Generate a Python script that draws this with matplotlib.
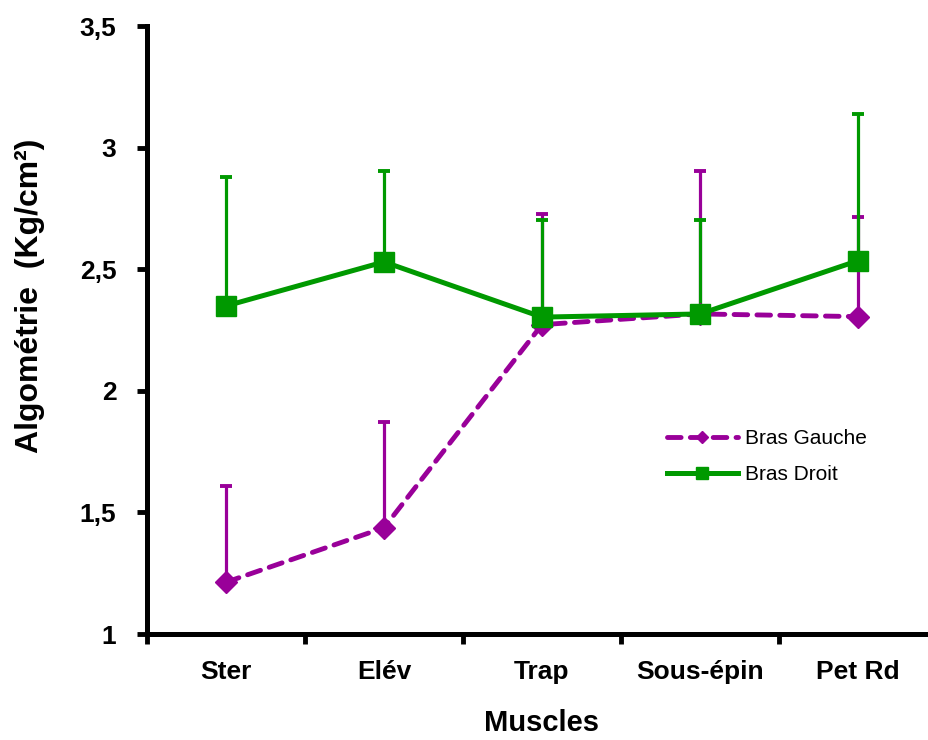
import matplotlib.pyplot as plt
from matplotlib.ticker import FuncFormatter

plt.rcParams["font.family"] = ["Liberation Sans", "DejaVu Sans"]

muscles = ["Ster", "Elév", "Trap", "Sous-épin", "Pet Rd"]
gauche = [1.213, 1.437, 2.272, 2.316, 2.305]
gauche_top = [1.607, 1.873, 2.725, 2.905, 2.714]
droit = [2.349, 2.530, 2.303, 2.316, 2.535]
droit_top = [2.878, 2.903, 2.702, 2.703, 3.140]

PURPLE = "#990099"
GREEN = "#009900"


def main():
    fig = plt.figure(figsize=(9.29, 7.40), dpi=100)
    ax = fig.add_axes([147 / 929, 1 - 634 / 740, (937 - 147) / 929, (634 - 26) / 740])

    x = list(range(len(muscles)))
    g_err = [[0] * len(x), [t - v for t, v in zip(gauche_top, gauche)]]
    d_err = [[0] * len(x), [t - v for t, v in zip(droit_top, droit)]]

    ax.errorbar(x, gauche, yerr=g_err, fmt="none", ecolor=PURPLE,
                elinewidth=2.3, capsize=4.5, capthick=2.8, zorder=2)
    ax.errorbar(x, droit, yerr=d_err, fmt="none", ecolor=GREEN,
                elinewidth=2.3, capsize=4.5, capthick=2.8, zorder=2)
    ax.plot(x, gauche, color=PURPLE, linestyle=(0, (2.8, 1.9)), linewidth=3.5,
            dash_capstyle="round", marker="D", markersize=11,
            label="Bras Gauche", zorder=3)
    ax.plot(x, droit, color=GREEN, linewidth=3.6, marker="s",
            markersize=14.5, label="Bras Droit", zorder=4)

    ax.set_xlim(-0.5, len(muscles) - 0.5)
    ax.set_ylim(1, 3.5)
    ax.set_yticks([1, 1.5, 2, 2.5, 3, 3.5])
    ax.yaxis.set_major_formatter(
        FuncFormatter(lambda v, _: f"{v:g}".replace(".", ",")))
    ax.set_xticks([i - 0.5 for i in range(len(muscles) + 1)])
    ax.set_xticklabels([])
    ax.set_xticks(x, minor=True)
    ax.set_xticklabels(muscles, minor=True, fontsize=19, fontweight="bold")
    ax.tick_params(axis="x", which="minor", length=0, pad=19)
    ax.tick_params(axis="x", which="major", length=7, width=3.5)
    ax.tick_params(axis="y", length=7, width=3.5, labelsize=19, pad=15)
    for label in ax.get_yticklabels():
        label.set_fontweight("bold")

    for side in ["top", "right"]:
        ax.spines[side].set_visible(False)
    for side in ["left", "bottom"]:
        ax.spines[side].set_linewidth(3.6)

    ax.set_xlabel("Muscles", fontsize=21, fontweight="bold", labelpad=18)
    ax.set_ylabel("Algométrie  (Kg/cm²)", fontsize=23, fontweight="bold",
                  labelpad=25)
    ax.yaxis.label.set_y(0.556)

    ax.legend(loc="center left", bbox_to_anchor=(0.645, 0.292), frameon=False,
              fontsize=15, handlelength=3.4, markerscale=0.6, borderpad=0,
              labelspacing=0.8, handletextpad=0.34)

    fig.savefig("out.png", facecolor="white")
    plt.close(fig)


if __name__ == "__main__":
    main()
